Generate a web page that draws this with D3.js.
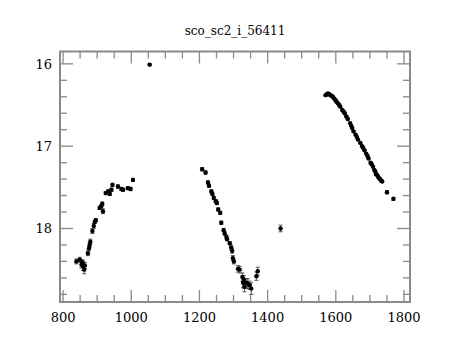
<!DOCTYPE html>
<html><head><meta charset="utf-8">
<script src="https://cdn.jsdelivr.net/npm/d3@7"></script>
<style>body{margin:0;background:#fff}</style>
</head><body><svg id="c" width="460" height="340"></svg>
<script>
const title = "sco_sc2_i_56411";
const xTicks = [800, 1000, 1200, 1400, 1600, 1800];
const yTicks = [16, 17, 18];
const days = [839,849,854,857,859,864,862,873,876,878,880,886,890,893,896,907,915,917,912,925,932,937,942,945,961,971,976,990,998,1005,
  1054,
  1208,1218,1225,1228,1235,1238,1242,1248,1251,1255,1261,1264,1271,1274,1279,1281,1289,1293,1296,1298,1301,1313,1318,1326,1330,1328,1337,1342,1332,1347,1352,1367,1371,
  1438,
  1570,1574,1577,1581,1584,1588,1591,1595,1599,1602,1606,1610,1613,1619,1623,1626,1631,1635,1642,1645,1648,1652,1658,1662,1665,1672,1677,1680,1684,1689,1693,1696,1702,1705,1709,1713,1716,1718,1721,1724,1727,1730,1733,1736,1750,1769];
const mags = [18.40,18.38,18.44,18.41,18.46,18.45,18.50,18.30,18.24,18.20,18.16,18.03,17.97,17.92,17.90,17.75,17.70,17.79,17.73,17.57,17.55,17.58,17.53,17.47,17.49,17.52,17.53,17.51,17.52,17.41,
  16.01,
  17.28,17.32,17.44,17.48,17.55,17.58,17.63,17.67,17.69,17.77,17.81,17.93,18.02,18.06,18.10,18.13,18.18,18.23,18.27,18.36,18.40,18.49,18.50,18.59,18.62,18.66,18.66,18.67,18.71,18.69,18.73,18.58,18.52,
  18.00,
  16.38,16.37,16.36,16.37,16.38,16.39,16.40,16.42,16.44,16.46,16.48,16.50,16.52,16.56,16.58,16.60,16.64,16.67,16.72,16.75,16.78,16.82,16.86,16.89,16.92,16.96,17.00,17.02,17.05,17.09,17.12,17.15,17.20,17.22,17.25,17.29,17.31,17.34,17.35,17.37,17.39,17.40,17.42,17.43,17.56,17.64];
const errs = [0.03,0.03,0.04,0.03,0.05,0.04,0.05,0.03,0.03,0.03,0.03,0.03,0.03,0.02,0.02,0.02,0.02,0.03,0.02,0.02,0.02,0.02,0.02,0.02,0.02,0.02,0.02,0.02,0.02,0.02,
  0.01,
  0.02,0.02,0.02,0.02,0.02,0.02,0.02,0.02,0.02,0.02,0.02,0.02,0.02,0.02,0.02,0.02,0.02,0.03,0.03,0.03,0.03,0.04,0.04,0.05,0.05,0.06,0.05,0.06,0.06,0.05,0.07,0.05,0.05,
  0.04,
  0.01,0.01,0.01,0.01,0.01,0.01,0.01,0.01,0.01,0.01,0.01,0.01,0.01,0.01,0.01,0.01,0.01,0.01,0.01,0.01,0.01,0.01,0.01,0.01,0.01,0.01,0.01,0.01,0.01,0.01,0.01,0.01,0.01,0.01,0.01,0.01,0.01,0.01,0.01,0.01,0.01,0.01,0.01,0.01,0.02,0.02];

const svg = d3.select("#c");
const L = 60, R = 410, T = 51.5, B = 302;
const x = d3.scaleLinear().domain([791, 1817.6]).range([L, R]);
const y = d3.scaleLinear().domain([15.85, 18.893]).range([T, B]);
const gray = "#8a8a8a";
const font = "'DejaVu Serif', serif";

svg.append("text").attr("x", 235).attr("y", 35).attr("text-anchor", "middle")
  .attr("font-family", font).attr("font-size", 12).attr("fill", "#000").text(title);

// minor/major ticks on all sides
const xMinor = d3.range(800, 1801, 50);
const yMinor = d3.range(16, 18.81, 0.2).map(v => +v.toFixed(1));
const tg = svg.append("g").attr("stroke", gray).attr("stroke-width", 1.3);
xMinor.forEach(v => {
  const len = xTicks.includes(v) ? 12 : 7;
  tg.append("line").attr("x1", x(v)).attr("x2", x(v)).attr("y1", B).attr("y2", B - len);
  tg.append("line").attr("x1", x(v)).attr("x2", x(v)).attr("y1", T).attr("y2", T + len);
});
yMinor.forEach(v => {
  const len = yTicks.includes(v) ? 13 : 7;
  tg.append("line").attr("y1", y(v)).attr("y2", y(v)).attr("x1", L).attr("x2", L + len);
  tg.append("line").attr("y1", y(v)).attr("y2", y(v)).attr("x1", R).attr("x2", R - len);
});
svg.append("rect").attr("x", L).attr("y", T).attr("width", R - L).attr("height", B - T)
  .attr("fill", "none").attr("stroke", gray).attr("stroke-width", 2);

svg.append("g").selectAll("text").data(xTicks).join("text")
  .attr("x", d => x(d)).attr("y", 322).attr("text-anchor", "middle")
  .attr("font-family", font).attr("font-size", 13).text(d => d);
svg.append("g").selectAll("text").data(yTicks).join("text")
  .attr("x", 52).attr("y", d => y(d) + 5).attr("text-anchor", "end")
  .attr("font-family", font).attr("font-size", 13).text(d => d);

const pts = days.map((d, i) => ({d, m: mags[i], e: errs[i]}));
const eg = svg.append("g").attr("stroke", "#555").attr("stroke-width", 1);
pts.forEach(p => {
  const y1 = y(p.m - p.e), y2 = y(p.m + p.e), cx = x(p.d);
  eg.append("line").attr("x1", cx).attr("x2", cx).attr("y1", y1).attr("y2", y2);
  eg.append("line").attr("x1", cx - 2).attr("x2", cx + 2).attr("y1", y1).attr("y2", y1);
  eg.append("line").attr("x1", cx - 2).attr("x2", cx + 2).attr("y1", y2).attr("y2", y2);
});
svg.append("g").selectAll("circle").data(pts).join("circle")
  .attr("cx", p => x(p.d)).attr("cy", p => y(p.m)).attr("r", 2.2).attr("fill", "#000");
</script></body></html>
